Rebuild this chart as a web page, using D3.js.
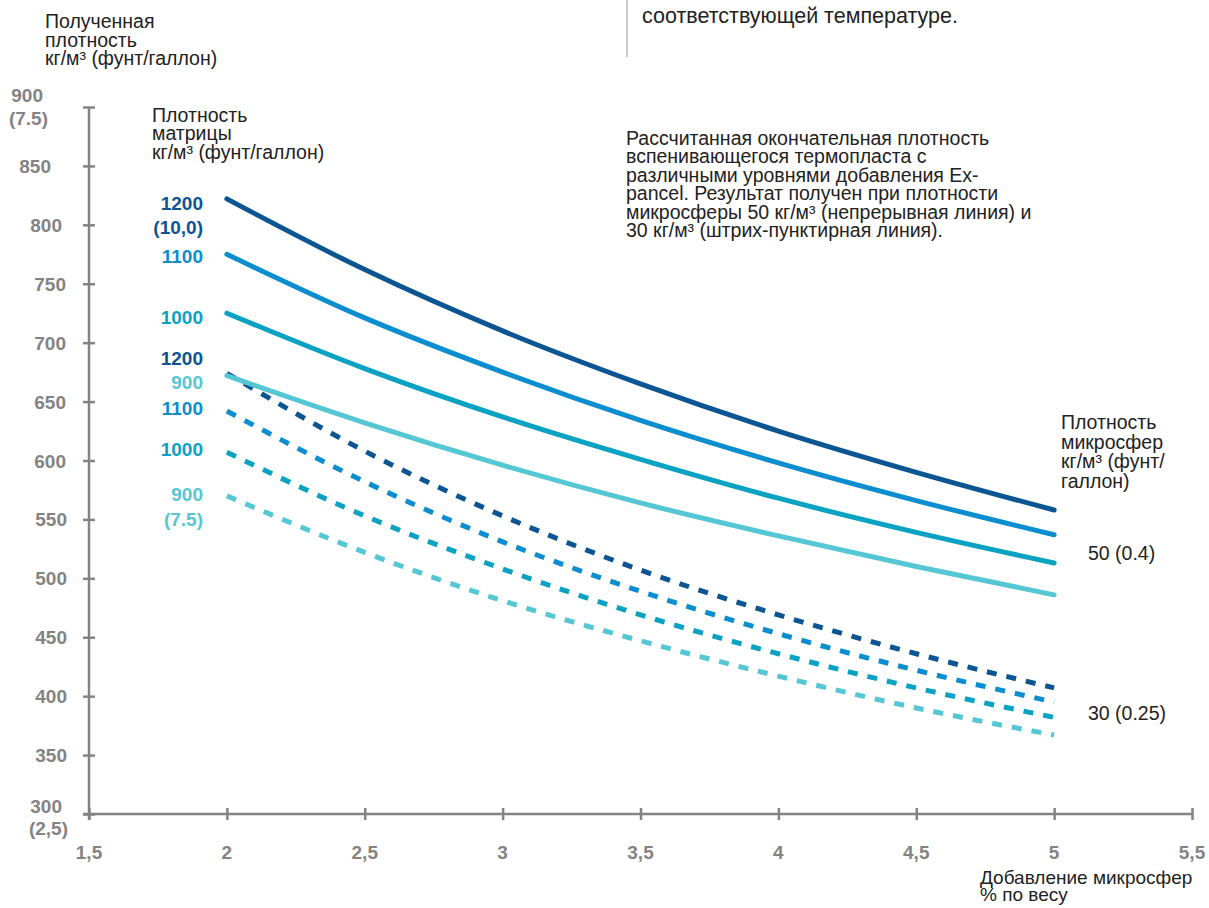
<!DOCTYPE html>
<html>
<head>
<meta charset="utf-8">
<script src="https://cdn.jsdelivr.net/npm/d3@7/dist/d3.min.js"></script>
<style>
  html, body { margin: 0; padding: 0; background: #fff; }
  svg { display: block; font-family: "Liberation Sans", Arial, sans-serif; }
  .lbl { font-size: 19.5px; fill: #222; }
  .tick-lbl { font-size: 19px; font-weight: bold; fill: #838383; }
  .mat-lbl { font-size: 19px; font-weight: bold; }
</style>
</head>
<body>
<div id="chart"></div>
<script>
const WIDTH = 1209;
const HEIGHT = 908;

// additions, % by weight
const additions = [2, 2.5, 3, 3.5, 4, 4.5, 5];

// microsphere 50 kg/m3 (solid)
const solid1200 = [822, 762, 710, 665, 625, 590, 558];
const solid1100 = [775, 721, 675, 634, 598, 566, 537];
const solid1000 = [725, 678, 637, 601, 568, 539, 513];
const solid900 = [672, 632, 596, 564, 536, 510, 486];

// microsphere 30 kg/m3 (dashed)
const dash1200 = [674, 608, 553, 507, 469, 436, 407];
const dash1100 = [642, 582, 531, 489, 453, 422, 395];
const dash1000 = [607, 553, 508, 469, 436, 407, 382];
const dash900 = [570, 522, 481, 447, 417, 390, 367];

const xTicks = [1.5, 2, 2.5, 3, 3.5, 4, 4.5, 5, 5.5];
const yTicks = [300, 350, 400, 450, 500, 550, 600, 650, 700, 750, 800, 850, 900];

const COLORS = { 1200: "#0b5593", 1100: "#0b8ecf", 1000: "#0aa2c3", 900: "#55c7d4" };
const AXIS = "#838383";

const series = [
  { matrix: 1200, values: solid1200, dashed: false },
  { matrix: 1100, values: solid1100, dashed: false },
  { matrix: 1000, values: solid1000, dashed: false },
  { matrix: 900, values: solid900, dashed: false },
  { matrix: 1200, values: dash1200, dashed: true },
  { matrix: 1100, values: dash1100, dashed: true },
  { matrix: 1000, values: dash1000, dashed: true },
  { matrix: 900, values: dash900, dashed: true },
];

const x = d3.scaleLinear().domain([1.5, 5.5]).range([89, 1192]);
const y = d3.scaleLinear().domain([300, 900]).range([814, 107]);

const svg = d3.select("#chart").append("svg")
  .attr("width", WIDTH)
  .attr("height", HEIGHT)
  .attr("viewBox", `0 0 ${WIDTH} ${HEIGHT}`);

// y axis
const yAxis = svg.append("g")
  .attr("transform", `translate(${x(1.5)},0)`)
  .call(d3.axisLeft(y).tickValues(yTicks).tickSize(6).tickFormat(""));
yAxis.select(".domain").attr("d", `M0,${y(900)}V${y(300) + 6}`);
yAxis.selectAll(".tick line").attr("x1", -6).attr("x2", 6);
yAxis.selectAll("path, line").attr("stroke", AXIS).attr("stroke-width", 2.5);

// x axis
const xAxis = svg.append("g")
  .attr("transform", `translate(0,${y(300)})`)
  .call(d3.axisBottom(x).tickValues(xTicks).tickSize(6).tickFormat(""));
xAxis.select(".domain").attr("d", `M${x(1.5) - 6},0H${x(5.5)}`);
xAxis.selectAll(".tick line").attr("y1", -6).attr("y2", 6);
xAxis.selectAll("path, line").attr("stroke", AXIS).attr("stroke-width", 2.5);

// y tick labels
const yLabelRight = { 900: 43, 850: 51, 800: 62, 750: 66, 700: 66, 650: 66, 600: 66, 550: 67, 500: 67, 450: 67, 400: 67, 350: 67, 300: 62 };
yTicks.forEach((v) => {
  let dy = 7;
  if (v === 900) dy = -5;
  if (v === 300) dy = -1;
  svg.append("text").attr("class", "tick-lbl")
    .attr("x", yLabelRight[v]).attr("y", y(v) + dy)
    .attr("text-anchor", "end").text(v);
});
svg.append("text").attr("class", "tick-lbl").attr("x", 48).attr("y", y(900) + 18).attr("text-anchor", "end").text("(7.5)");
svg.append("text").attr("class", "tick-lbl").attr("x", 68).attr("y", y(300) + 21).attr("text-anchor", "end").text("(2,5)");

// x tick labels
const fmtX = (v) => String(v).replace(".", ",");
xTicks.forEach((v) => {
  svg.append("text").attr("class", "tick-lbl")
    .attr("x", x(v)).attr("y", y(300) + 45)
    .attr("text-anchor", "middle").text(fmtX(v));
});

// curves
const line = d3.line()
  .x((d, i) => x(additions[i]))
  .y((d) => y(d))
  .curve(d3.curveMonotoneX);

svg.append("g").attr("fill", "none")
  .selectAll("path")
  .data(series.slice().reverse())
  .join("path")
  .attr("d", (d) => line(d.values))
  .attr("stroke", (d) => COLORS[d.matrix])
  .attr("stroke-width", 5)
  .attr("stroke-linecap", (d) => (d.dashed ? "butt" : "round"))
  .attr("stroke-dasharray", (d) => (d.dashed ? "10,10" : null));

// left matrix labels
const matLabels = [
  { t: "1200", m: 1200, y: 203 },
  { t: "(10,0)", m: 1200, y: 227 },
  { t: "1100", m: 1100, y: 256 },
  { t: "1000", m: 1000, y: 317 },
  { t: "1200", m: 1200, y: 358 },
  { t: "900", m: 900, y: 382 },
  { t: "1100", m: 1100, y: 408 },
  { t: "1000", m: 1000, y: 449 },
  { t: "900", m: 900, y: 494 },
  { t: "(7.5)", m: 900, y: 519 },
];
svg.append("g").selectAll("text")
  .data(matLabels)
  .join("text")
  .attr("class", "mat-lbl")
  .attr("x", 203)
  .attr("y", (d) => d.y + 7)
  .attr("text-anchor", "end")
  .attr("fill", (d) => COLORS[d.m])
  .text((d) => d.t);

function block(lines, x0, y0, lh, size) {
  const t = svg.append("text").attr("class", "lbl").attr("x", x0).attr("y", y0);
  if (size) t.style("font-size", size + "px");
  lines.forEach((s, i) => {
    t.append("tspan").attr("x", x0).attr("y", y0 + i * lh).text(s);
  });
}

block(["Полученная", "плотность", "кг/м³ (фунт/галлон)"], 45, 28, 18.5);
block(["Плотность", "матрицы", "кг/м³ (фунт/галлон)"], 152, 122, 18.3);
block([
  "Рассчитанная окончательная плотность",
  "вспенивающегося термопласта с",
  "различными уровнями добавления Ex-",
  "pancel. Результат получен при плотности",
  "микросферы 50 кг/м³ (непрерывная линия) и",
  "30 кг/м³ (штрих-пунктирная линия).",
], 626, 145, 18.4);
block(["Плотность", "микросфер", "кг/м³ (фунт/", "галлон)"], 1061, 429, 19.5);
block(["50 (0.4)"], 1088, 560);
block(["30 (0.25)"], 1088, 720);
block(["Добавление микросфер", "% по весу"], 980, 884, 16.5, 19);

// top fragment
svg.append("line").attr("x1", 627).attr("x2", 627).attr("y1", 0).attr("y2", 57)
  .attr("stroke", "#999").attr("stroke-width", 1);
block(["соответствующей температуре."], 642, 23, 19, 21.5);
</script>
</body>
</html>
